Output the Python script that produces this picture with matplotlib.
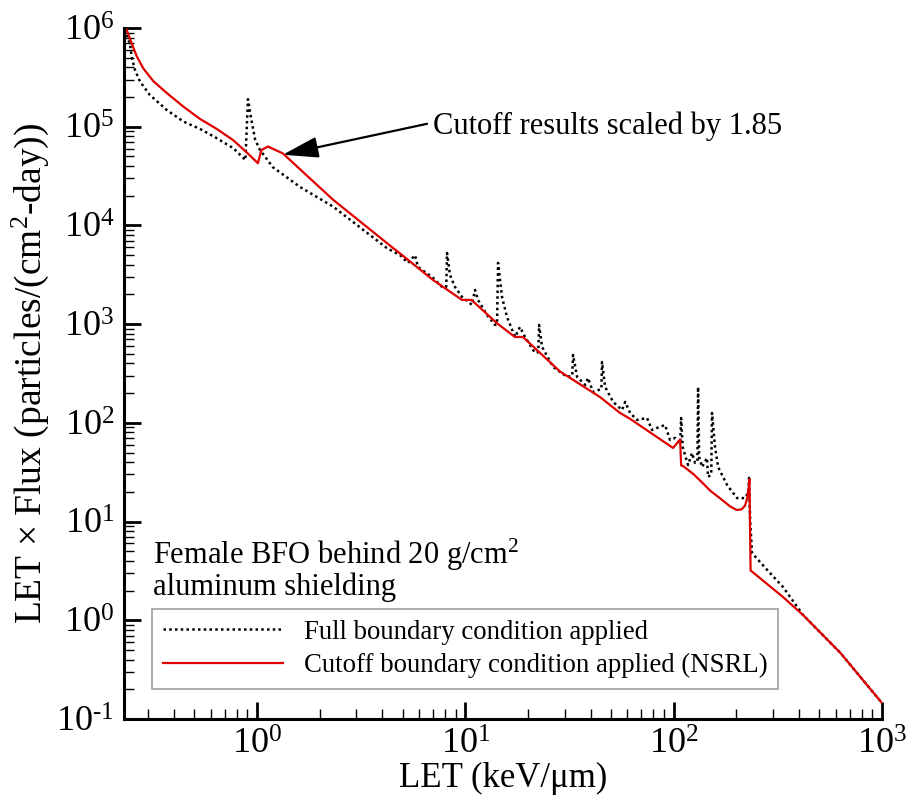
import math
import matplotlib
matplotlib.use("Agg")
import matplotlib.pyplot as plt
from matplotlib.ticker import LogLocator, NullFormatter, FuncFormatter

plt.rcParams['font.family'] = ['Liberation Serif', 'DejaVu Serif']
plt.rcParams['mathtext.fontset'] = 'custom'
plt.rcParams['mathtext.rm'] = 'Liberation Serif'
plt.rcParams['mathtext.it'] = 'Liberation Serif:italic'
plt.rcParams['mathtext.bf'] = 'Liberation Serif:bold'
plt.rcParams['axes.unicode_minus'] = False

# LET spectrum, full boundary condition (keV/um, LET x flux)
full_let = [0.23, 0.2456, 0.2503, 0.2597, 0.2744, 0.306, 0.3685, 0.4428, 0.5325,
            0.6406, 0.7695, 0.88, 0.905, 0.94, 0.98, 1.03, 1.19, 1.61, 2.32, 4.2,
            4.86, 5.31, 5.73, 5.93, 7.0, 7.82, 8.1, 8.17, 8.44, 8.92, 9.64, 10.76,
            11.13, 11.5, 12.7, 13.89, 14.2, 14.36, 15.0, 15.85, 17.33, 18.3, 19.35,
            21.6, 22.4, 22.6, 23.35, 26.4, 30.8, 32.6, 32.9, 34.4, 37.6, 38.8, 41.0,
            45.0, 45.3, 46.9, 51.2, 56.5, 58.5, 61.8, 66.7, 74.5, 78.7, 83.2, 90.9,
            96.1, 101.6, 107.5, 108.6, 110.5, 117.2, 122.5, 126.7, 130.0, 131.0,
            132.5, 136.9, 144.6, 146.2, 151.5, 152.8, 158.0, 163.4, 180.4, 201.4,
            220.2, 229.0, 230.0, 233.0, 237.8, 281.0, 335.0, 418.0, 630.0, 1000.0]
full_flux = [9.6e5, 7.0e5, 5.1e5, 3.76e5, 2.87e5, 2.1e5, 1.48e5, 1.13e5, 9.5e4,
             7.66e4, 6.06e4, 4.6e4, 1.9e5, 1.17e5, 7.4e4, 5.9e4, 3.9e4, 2.45e4,
             1.55e4, 5.9e3, 5.0e3, 4.17e3, 5.0e3, 3.8e3, 2.94e3, 2.33e3, 2.4e3,
             5.26e3, 3.15e3, 2.38e3, 1.89e3, 1.57e3, 2.22e3, 1.76e3, 1.24e3, 982,
             1.0e3, 4.17e3, 1.89e3, 1.18e3, 741, 937, 741, 511, 520, 982, 588, 368,
             292, 300, 488, 292, 242, 285, 206, 220, 414, 231, 163, 135, 163, 126,
             107, 112, 84.7, 88.8, 95.2, 67.1, 70.4, 62, 112, 57, 37.4, 49.5, 39.3,
             40, 231, 45, 35.7, 44.1, 28.3, 30, 126, 57, 35.7, 23.5, 17.3, 17.3, 20,
             27.7, 10, 4.8, 3.24, 2.17, 1.13, 0.47, 0.145]

# LET spectrum, cutoff boundary condition (NSRL), scaled by 1.85
cut_let = [0.23, 0.2367, 0.2503, 0.2645, 0.2845, 0.3178, 0.3685, 0.4428, 0.5325,
           0.6406, 0.7695, 0.892, 1.01, 1.05, 1.13, 1.33, 2.32, 4.5, 4.86, 7.0,
           9.64, 10.7, 14.2, 17.3, 18.9, 28.5, 44.4, 55.3, 61.7, 99.3, 107.4,
           108.6, 111, 125, 138, 150, 167, 187, 201, 212, 220, 226, 229, 231, 234,
           335, 418, 630, 1000]
cut_flux = [9.9e5, 9.6e5, 7.0e5, 5.2e5, 3.9e5, 2.9e5, 2.2e5, 1.6e5, 1.2e5, 9.5e4,
            7.3e4, 5.5e4, 4.27e4, 5.8e4, 6.3e4, 5.37e4, 1.82e4, 5.9e3, 5.2e3,
            2.8e3, 1.76e3, 1.76e3, 1.02e3, 741, 741, 331, 182, 126, 110, 55.7,
            67.6, 37, 36.5, 30, 24.5, 20.5, 17.2, 14.2, 13.1, 13.3, 14.5, 17.5, 22,
            27, 3.2, 1.72, 1.13, 0.47, 0.145]


def decade_label(value, pos):
    exp = int(round(math.log10(value)))
    sign = r'\text{-}' if exp < 0 else ''
    return rf'$\mathdefault{{10^{{{sign}{abs(exp)}}}}}$'


fig = plt.figure(figsize=(9.06, 8.06), dpi=100)
ax = fig.add_axes([124 / 906, 1 - 719 / 806, (882 - 124) / 906, (719 - 28) / 806])

ax.plot(full_let, full_flux, color='black', lw=1.8, ls=(0, (1, 1.3)),
        label='Full boundary condition applied')
ax.plot(cut_let, cut_flux, color='#e00000', lw=1.6,
        label='Cutoff boundary condition applied (NSRL)')

ax.set_xscale('log')
ax.set_yscale('log')
ax.set_xlim(0.23, 1000)
ax.set_ylim(0.1, 1e6)

ax.xaxis.set_major_locator(LogLocator(base=10, numticks=20))
ax.yaxis.set_major_locator(LogLocator(base=10, numticks=20))
ax.xaxis.set_minor_locator(LogLocator(base=10, subs=range(2, 10), numticks=50))
ax.yaxis.set_minor_locator(LogLocator(base=10, subs=range(2, 10), numticks=50))
ax.xaxis.set_major_formatter(FuncFormatter(decade_label))
ax.yaxis.set_major_formatter(FuncFormatter(decade_label))
ax.xaxis.set_minor_formatter(NullFormatter())
ax.yaxis.set_minor_formatter(NullFormatter())

for side in ('top', 'right'):
    ax.spines[side].set_visible(False)
for side in ('left', 'bottom'):
    ax.spines[side].set_linewidth(2.2)

ax.tick_params(which='major', direction='in', length=12, width=2, labelsize=26, pad=7)
ax.tick_params(which='minor', direction='in', length=7, width=1)

ax.set_xlabel('LET (keV/\u03bcm)', fontsize=25, labelpad=0)
ax.set_ylabel('LET \u00d7 Flux (particles/(cm$^{2}$-day))', fontsize=27, labelpad=4)

ax.text(0.038, 0.264, 'Female BFO behind 20 g/cm$^{2}$\naluminum shielding',
        transform=ax.transAxes, ha='left', va='top', fontsize=22, linespacing=1.0)

ax.text(7.0, 1.0e5, 'Cutoff results scaled by 1.85', ha='left', va='center', fontsize=22)
ax.annotate('', xy=(1.33, 5.2e4), xytext=(6.55, 1.07e5),
            arrowprops=dict(arrowstyle='-|>,head_length=2.2,head_width=0.65',
                            mutation_scale=10, lw=1.6, color='black',
                            shrinkA=0, shrinkB=0))

leg = ax.legend(loc='upper left', bbox_to_anchor=(0.037, 0.159), borderaxespad=0,
                fontsize=19.3, handlelength=4.5, handletextpad=0.76, labelspacing=0.3,
                frameon=True, fancybox=False, borderpad=0.4)
leg.get_frame().set_edgecolor('#888888')
leg.get_frame().set_linewidth(1.2)

fig.savefig('out.png', dpi=100)
